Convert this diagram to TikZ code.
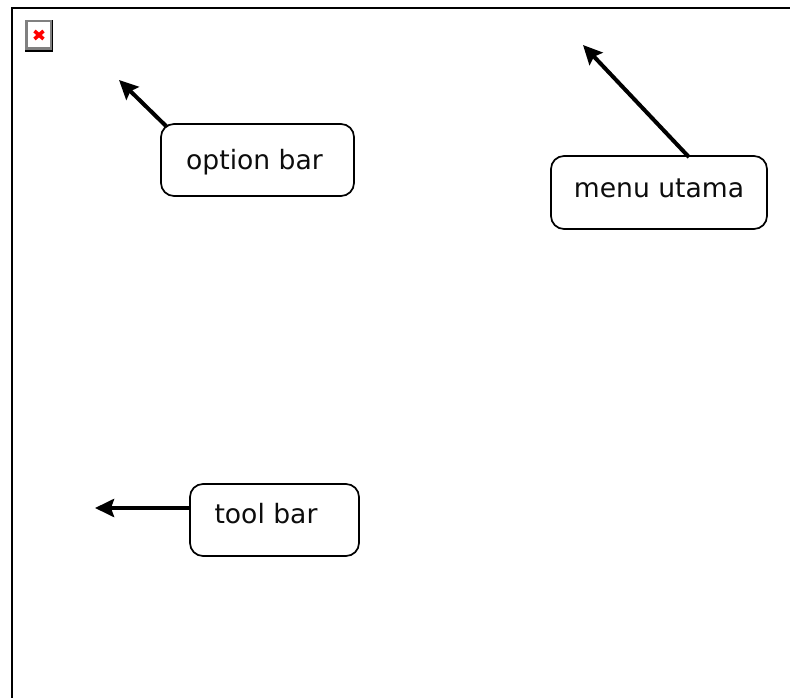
\documentclass[tikz,border=0pt]{standalone}
\usepackage{fontspec}
\setmainfont{DejaVu Sans}
\usetikzlibrary{arrows.meta}
\tikzset{
  frameline/.style={draw=black,line width=1.8pt},
  callout/.style={draw=black,line width=1.7pt,rounded corners=13pt,inner sep=0pt,fill=white},
  pointer/.style={draw=black,line width=4pt,-{Stealth[length=19pt,width=18pt,inset=3pt]}},
  lbl/.style={font=\fontsize{26.6pt}{30pt}\selectfont,text=black!95}
}
\definecolor{iconred}{RGB}{255,0,0}
\begin{document}
\begin{tikzpicture}[x=1pt,y=-1pt]
\useasboundingbox (0,0) rectangle (790,698);
\fill[white] (0,0) rectangle (790,698);
% outer frame (runs off the right and bottom)
\draw[frameline] (790,8) -- (12,8) -- (12,698);
% broken-image icon
\fill[black] (25,20) rectangle (53,52);
\fill[black!50] (25,20) rectangle (51.5,50);
\fill[white] (27.5,22.5) rectangle (49.5,47.5);
\draw[iconred,line width=3.6pt] (34.5,31) -- (43.5,39) (43.5,31) -- (34.5,39);
% callouts
\node[callout,minimum width=193pt,minimum height=72pt,label={[lbl,xshift=-3pt,yshift=-2pt]center:option bar}] (opt) at (257.5,160) {};
\node[callout,minimum width=216pt,minimum height=73pt,label={[lbl,yshift=4pt]center:menu utama}] (menu) at (659,192.5) {};
\node[callout,minimum width=169pt,minimum height=72pt,label={[lbl,xshift=-8.5pt,yshift=6pt]center:tool bar}] (tool) at (274.5,520) {};
% free ends
\coordinate (optend) at (119,80);
\coordinate (menuend) at (583,45);
\coordinate (toolend) at (95,508);
% connectors
\draw[pointer] ([shift={(6pt,-3pt)}]opt.north west) -- (optend);
\draw[pointer] ([xshift=30pt,yshift=-2pt]menu.north) -- (menuend);
\draw[pointer] ([yshift=12pt]tool.west) -- (toolend);
\end{tikzpicture}
\end{document}
